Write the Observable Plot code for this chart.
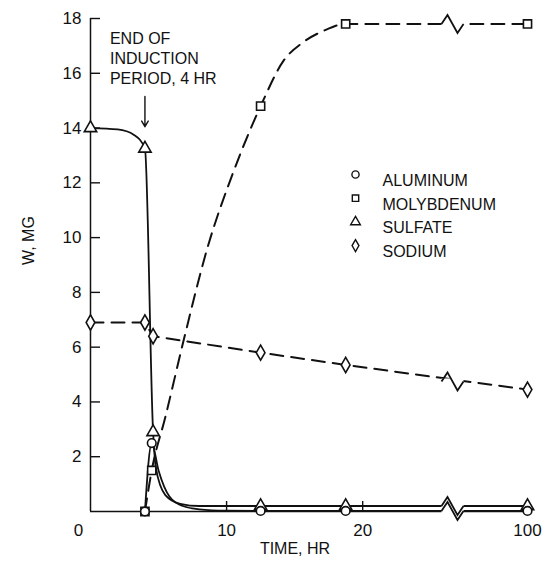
<!DOCTYPE html>
<html>
<head>
<meta charset="utf-8">
<script src="https://cdn.jsdelivr.net/npm/d3@7"></script>
<script src="https://cdn.jsdelivr.net/npm/@observablehq/plot@0.6"></script>
<style>
  html, body { margin: 0; padding: 0; background: #fff; }
  #chart { width: 547px; height: 566px; }
</style>
</head>
<body>
<div id="chart"></div>
<script>
// ---- data ----
// markers (measured points)
const aluminumT = [4, 4.5, 12.5, 18.75, 100];
const aluminumW = [0, 2.5, 0.02, 0.02, 0.02];
const molybdenumT = [4, 4.5, 12.5, 18.75, 100];
const molybdenumW = [0, 1.5, 14.8, 17.8, 17.8];
const sulfateT = [0, 4, 4.6, 12.5, 18.75, 100];
const sulfateW = [14, 13.25, 2.9, 0.2, 0.2, 0.2];
const sodiumT = [0, 4, 4.6, 12.5, 18.75, 100];
const sodiumW = [6.9, 6.9, 6.4, 5.8, 5.35, 4.45];

// hand-drawn curves
const sulfateCurveT = [0, 2, 3.2, 4, 4.6, 4.8, 5.5, 6.6, 8, 12.5, 18.75, 100];
const sulfateCurveW = [14, 13.95, 13.75, 13.25, 2.9, 1.6, 0.6, 0.28, 0.2, 0.2, 0.2, 0.2];
const aluminumCurveT = [4, 4.5, 5.0, 5.8, 6.8, 8, 10, 12.5, 18.75, 100];
const aluminumCurveW = [0, 2.5, 1.5, 0.55, 0.2, 0.08, 0.03, 0.02, 0.02, 0.02];
const molybdenumCurveT = [4, 4.5, 5.5, 6.84, 8.6, 10.5, 12.5, 14.19, 15.59, 17.13, 18.75, 100];
const molybdenumCurveW = [0, 1.5, 3.45, 6.24, 9.64, 12.4, 14.8, 16.46, 17.12, 17.55, 17.8, 17.8];

// axis
const xTickLabels = [10, 20, 100];
const xZeroLabel = [0];
const xTickMarks = [10, 20];
const yTicks = [2, 4, 6, 8, 10, 12, 14, 16, 18];
const breakHr = 26.6;               // axis break position (hr, linear part)
const breakW = [17.8, 4.75, 0.2, 0.02]; // lines crossing the break

// legend
const legendNames = ["ALUMINUM", "MOLYBDENUM", "SULFATE", "SODIUM"];
const legendSymbols = ["circle", "square", "triangle", "diamond"];

// annotation
const annotText = "END OF\nINDUCTION\nPERIOD, 4 HR";
const inductionHr = 4;
const annotArrow = [{x: 4, y1: 15.15, y2: 14.05}];

const zip = (t, w) => t.map((x, i) => ({x, y: w[i]}));
const alum = zip(aluminumT, aluminumW);
const moly = zip(molybdenumT, molybdenumW);
const sulf = zip(sulfateT, sulfateW);
const sod = zip(sodiumT, sodiumW);
const sulfCurve = zip(sulfateCurveT, sulfateCurveW);
const alumCurve = zip(aluminumCurveT, aluminumCurveW);
const molyCurve = zip(molybdenumCurveT, molybdenumCurveW);
const breaks = breakW.map(y => ({x: breakHr, y}));

const zigzag = {draw(ctx) { ctx.moveTo(-11, 0); ctx.lineTo(-5, -9); ctx.lineTo(5, 9); ctx.lineTo(11, 0); }};
const cutter = {draw(ctx) { ctx.rect(-11, -3, 22, 6); }};

const ink = "#111";
const dash = "13,8";
const markStyle = {x: "x", y: "y", r: 4.8, stroke: ink, strokeWidth: 1.6, fill: "white"};

const legendMarks = legendNames.flatMap((name, i) => [
  Plot.dot([name], {frameAnchor: "top-left", dx: 265, dy: 156 + 23.7 * i, symbol: legendSymbols[i], r: 3.6, stroke: ink, strokeWidth: 1.4, fill: "white"}),
  Plot.text([name], {frameAnchor: "top-left", dx: 292, dy: 156 + 23.7 * i, textAnchor: "start", fill: ink, fontSize: 16})
]);

const chart = Plot.plot({
  width: 547,
  height: 566,
  marginLeft: 90,
  marginRight: 20,
  marginTop: 18,
  marginBottom: 55,
  style: {fontFamily: "'Liberation Sans', Arial, sans-serif", fontSize: "16px", background: "white", color: ink},
  x: {type: "linear", domain: [0, breakHr, 100], range: [90, 452, 527]},
  y: {domain: [0, 18]},
  marks: [
    Plot.ruleX([0], {stroke: ink, strokeWidth: 1.5}),
    Plot.ruleY([0], {stroke: ink, strokeWidth: 1.5}),
    Plot.axisY({ticks: yTicks, tickSize: 0, tickPadding: 9, label: null, fontSize: 17}),
    Plot.axisY({ticks: yTicks, tickSize: 10, dx: 10, text: null, label: null, stroke: ink, strokeWidth: 1.4}),
    Plot.axisX({ticks: xTickLabels, tickSize: 0, tickPadding: 12, label: null, fontSize: 17}),
    Plot.axisX({ticks: xZeroLabel, tickSize: 0, tickPadding: 12, dx: -12, label: null, fontSize: 17}),
    Plot.axisX({ticks: xTickMarks, tickSize: 10, dy: -10, text: null, label: null, stroke: ink, strokeWidth: 1.4}),
    Plot.text(["W, MG"], {frameAnchor: "left", dx: -62, rotate: -90, fill: ink, fontSize: 16}),
    Plot.text(["TIME, HR"], {frameAnchor: "bottom", dx: -14, dy: 42, fill: ink, fontSize: 16}),

    // curves
    Plot.line(sulfCurve, {x: "x", y: "y", curve: "monotone-x", stroke: ink, strokeWidth: 1.8}),
    Plot.line(alumCurve, {x: "x", y: "y", curve: "monotone-x", stroke: ink, strokeWidth: 1.8}),
    Plot.line(molyCurve, {x: "x", y: "y", curve: "monotone-x", stroke: ink, strokeWidth: 2, strokeDasharray: dash}),
    Plot.line(sod, {x: "x", y: "y", stroke: ink, strokeWidth: 2, strokeDasharray: dash}),

    // axis break
    Plot.dot(breaks, {x: "x", y: "y", symbol: cutter, fill: "white", stroke: "none"}),
    Plot.dot(breaks, {x: "x", y: "y", symbol: zigzag, fill: "none", stroke: ink, strokeWidth: 1.8}),

    // markers
    Plot.dot(sod, {...markStyle, symbol: "diamond", r: 4.6}),
    Plot.dot(moly, {...markStyle, symbol: "square", r: 4.6}),
    Plot.dot(sulf, {...markStyle, symbol: "triangle", r: 4.6}),
    Plot.dot(alum, {...markStyle, symbol: "circle", r: 4.3}),

    // annotation
    Plot.text([{t: annotText, x: inductionHr}], {x: "x", text: "t", frameAnchor: "top", dx: -35, dy: 11, textAnchor: "start", lineAnchor: "top", lineHeight: 1.25, fill: ink, fontSize: 16}),
    Plot.arrow(annotArrow, {x: "x", y1: "y1", y2: "y2", stroke: ink, strokeWidth: 1.4, headLength: 7}),

    ...legendMarks
  ]
});
document.getElementById("chart").append(chart);
</script>
</body>
</html>
